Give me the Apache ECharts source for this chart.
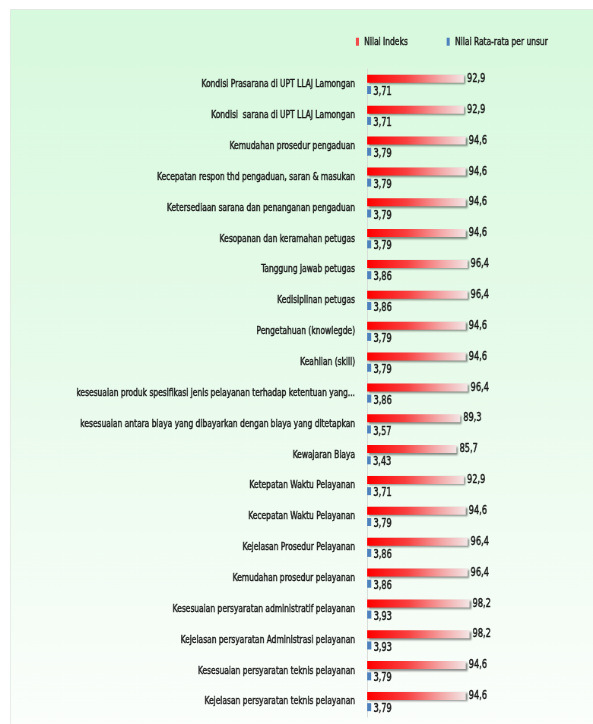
<!DOCTYPE html>
<html>
<head>
<meta charset="utf-8">
<script src="https://cdn.jsdelivr.net/npm/echarts@6/dist/echarts.min.js"></script>
<style>
html,body{margin:0;padding:0;background:#ffffff;overflow:hidden;width:593px;height:724px;}
/* the reference is a horizontally squeezed slide: draw wide, then squeeze */
#main{width:780px;height:724px;transform:scaleX(0.76026);transform-origin:0 0;}
</style>
</head>
<body>
<div id="main"></div>
<script>
const categories = [
  "Kondisi Prasarana di UPT LLAJ Lamongan",
  "Kondisi  sarana di UPT LLAJ Lamongan",
  "Kemudahan prosedur pengaduan",
  "Kecepatan respon thd pengaduan, saran & masukan",
  "Ketersediaan sarana dan penanganan pengaduan",
  "Kesopanan dan keramahan petugas",
  "Tanggung jawab petugas",
  "Kedisiplinan petugas",
  "Pengetahuan (knowlegde)",
  "Keahlian (skill)",
  "kesesuaian produk spesifikasi jenis pelayanan terhadap ketentuan yang...",
  "kesesuaian antara biaya yang dibayarkan dengan biaya yang ditetapkan",
  "Kewajaran Biaya",
  "Ketepatan Waktu Pelayanan",
  "Kecepatan Waktu Pelayanan",
  "Kejelasan Prosedur Pelayanan",
  "Kemudahan prosedur pelayanan",
  "Kesesuaian persyaratan administratif pelayanan",
  "Kejelasan persyaratan Administrasi pelayanan",
  "Kesesuaian persyaratan teknis pelayanan",
  "Kejelasan persyaratan teknis pelayanan"
];
const nilaiIndeks = [92.9, 92.9, 94.6, 94.6, 94.6, 94.6, 96.4, 96.4, 94.6, 94.6, 96.4, 89.3, 85.7, 92.9, 94.6, 96.4, 96.4, 98.2, 98.2, 94.6, 94.6];
const nilaiRataRata = [3.71, 3.71, 3.79, 3.79, 3.79, 3.79, 3.86, 3.86, 3.79, 3.79, 3.86, 3.57, 3.43, 3.71, 3.79, 3.86, 3.86, 3.93, 3.93, 3.79, 3.79];
const seriesNames = ["Nilai Indeks", "Nilai Rata-rata per unsur"];

const FONT = "'DejaVu Sans Condensed', 'DejaVu Sans', sans-serif";
const fmt = p => String(p.value).replace('.', ',');
const heavy = {textBorderColor: '#1a1a1a', textBorderWidth: 0.45};

const chart = echarts.init(document.getElementById('main'), null, {renderer: 'canvas', width: 780, height: 724});
chart.setOption({
  animation: false,
  backgroundColor: '#ffffff',
  graphic: [{
    type: 'rect',
    left: 13, top: 9,
    shape: {width: 767, height: 715},
    z: -10,
    style: {
      fill: new echarts.graphic.LinearGradient(0, 0, 0, 1, [
        {offset: 0, color: '#d7f9dd'},
        {offset: 0.5, color: '#e8fbeb'},
        {offset: 1, color: '#fbfefb'}
      ]),
      stroke: '#e2e8e2',
      lineWidth: 1
    }
  }],
  legend: {
    left: 463, top: 31,
    orient: 'horizontal',
    itemWidth: 4, itemHeight: 8, itemGap: 51,
    icon: 'rect',
    textStyle: Object.assign({fontFamily: FONT, fontSize: 11, color: '#1a1a1a', padding: [0, 0, 0, 2]}, heavy),
    data: [
      {name: seriesNames[0], itemStyle: {color: '#f24b4b'}},
      {name: seriesNames[1], itemStyle: {color: '#4f81bd'}}
    ]
  },
  grid: {left: 483, top: 69, width: 137, height: 648, containLabel: false, outerBoundsMode: 'none'},
  xAxis: {
    type: 'value', min: 0, max: 100,
    show: false
  },
  yAxis: {
    type: 'category',
    inverse: true,
    data: categories,
    axisLine: {show: true, lineStyle: {color: '#d6d9d6', width: 1}},
    axisTick: {show: false},
    axisLabel: Object.assign({fontFamily: FONT, fontSize: 11, color: '#1a1a1a', margin: 16}, heavy)
  },
  series: [
    {
      name: seriesNames[0],
      type: 'bar',
      data: nilaiIndeks,
      barWidth: 8,
      barGap: '40%',
      itemStyle: {
        color: new echarts.graphic.LinearGradient(0, 0, 1, 0, [
          {offset: 0, color: '#ff0000'},
          {offset: 0.4, color: '#f94040'},
          {offset: 0.75, color: '#f4a8a8'},
          {offset: 1, color: '#f3e6e6'}
        ]),
        shadowColor: 'rgba(0,0,0,0.45)',
        shadowBlur: 2,
        shadowOffsetX: 2,
        shadowOffsetY: 1.5
      },
      label: Object.assign({
        show: true, position: 'right', distance: 4,
        formatter: fmt,
        fontFamily: FONT, fontSize: 12, color: '#1a1a1a'
      }, heavy)
    },
    {
      name: seriesNames[1],
      type: 'bar',
      data: nilaiRataRata,
      barWidth: 8,
      barGap: '40%',
      itemStyle: {color: '#4f81bd'},
      label: Object.assign({
        show: true, position: 'right', distance: 3, offset: [0, 2],
        formatter: fmt,
        fontFamily: FONT, fontSize: 12, color: '#1a1a1a'
      }, heavy)
    }
  ]
});
</script>
</body>
</html>
